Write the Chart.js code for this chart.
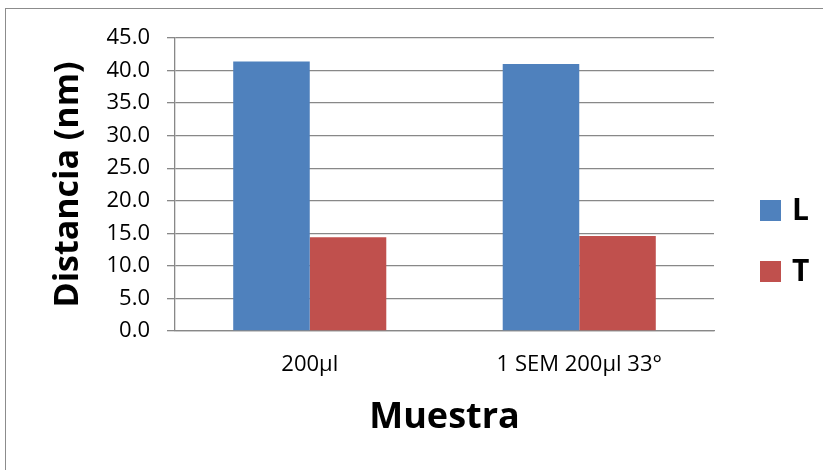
<!DOCTYPE html>
<html>
<head>
<meta charset="utf-8">
<script src="https://cdn.jsdelivr.net/npm/chart.js@4.4.1/dist/chart.umd.min.js"></script>
<style>
  html, body { margin: 0; padding: 0; background: #fff; overflow: hidden; }
  #wrap { position: relative; width: 823px; height: 470px; }
  #frame { position: absolute; left: 5px; top: 8px; width: 900px; height: 600px;
           border: 1px solid #8c8c8c; pointer-events: none; }
</style>
</head>
<body>
<div id="wrap">
  <canvas id="myChart" width="823" height="470"></canvas>
  <div id="frame"></div>
</div>
<script>
// Datos
const muestras = ["200µl", "1 SEM 200µl 33°"];
const serieL = [41.4, 41.0];
const serieT = [14.4, 14.6];
const nombresSeries = ["L", "T"];
const coloresSeries = ["#4F81BD", "#C0504D"];
const yMin = 0;
const yMax = 45;
const yPaso = 5;

const fuente = "'Open Sans', 'Liberation Sans', sans-serif";
const gris = "#888888";

// Leyenda dibujada a mano (cuadro + letra) a la derecha del area
const leyendaPlugin = {
    id: "leyendaDerecha",
    afterDraw(chart) {
        const ctx = chart.ctx;
        const x0 = chart.chartArea.right + 46;
        const yCentro = 241;
        const sep = 61;
        const n = chart.data.datasets.length;
        ctx.save();
        ctx.font = "bold 30px " + fuente;
        ctx.textBaseline = "middle";
        ctx.textAlign = "left";
        chart.data.datasets.forEach((ds, i) => {
            const y = yCentro + (i - (n - 1) / 2) * sep;
            ctx.fillStyle = ds.backgroundColor;
            ctx.fillRect(x0, y - 10.5, 21, 21);
            ctx.fillStyle = "#000";
            ctx.fillText(ds.label, x0 + 32, y + 1);
        });
        ctx.restore();
    }
};

const ctx = document.getElementById("myChart").getContext("2d");
new Chart(ctx, {
    type: "bar",
    data: {
        labels: muestras,
        datasets: [
            { label: nombresSeries[0], data: serieL, backgroundColor: coloresSeries[0], borderWidth: 0 },
            { label: nombresSeries[1], data: serieT, backgroundColor: coloresSeries[1], borderWidth: 0 }
        ]
    },
    options: {
        responsive: false,
        animation: false,
        devicePixelRatio: 1,
        layout: { padding: { top: 38, right: 109, bottom: 0, left: 0 } },
        datasets: {
            bar: { categoryPercentage: 0.568, barPercentage: 1.0 }
        },
        plugins: {
            legend: { display: false },
            tooltip: { enabled: false }
        },
        scales: {
            x: {
                grid: { display: false, drawTicks: false },
                border: { display: true, color: gris, width: 1.3 },
                ticks: { color: "#000", font: { family: fuente, size: 22 }, padding: 21 },
                title: {
                    display: true,
                    text: "Muestra",
                    color: "#000",
                    font: { family: fuente, size: 36, weight: "bold" },
                    padding: { top: 0, bottom: 31 }
                },
                afterFit(scale) { scale.height = 139; }
            },
            y: {
                min: yMin,
                max: yMax,
                grid: { color: gris, lineWidth: 1.3, tickLength: 8, drawTicks: true },
                border: { display: true, color: gris, width: 1.3 },
                ticks: {
                    stepSize: yPaso,
                    color: "#000",
                    font: { family: fuente, size: 22 },
                    padding: 17,
                    callback: v => v.toFixed(1)
                },
                title: {
                    display: true,
                    text: "Distancia (nm)",
                    color: "#000",
                    font: { family: fuente, size: 34, weight: "bold" },
                    padding: { top: 48, bottom: 0 }
                },
                afterFit(scale) { scale.width = 175; }
            }
        }
    },
    plugins: [leyendaPlugin]
});
</script>
</body>
</html>
